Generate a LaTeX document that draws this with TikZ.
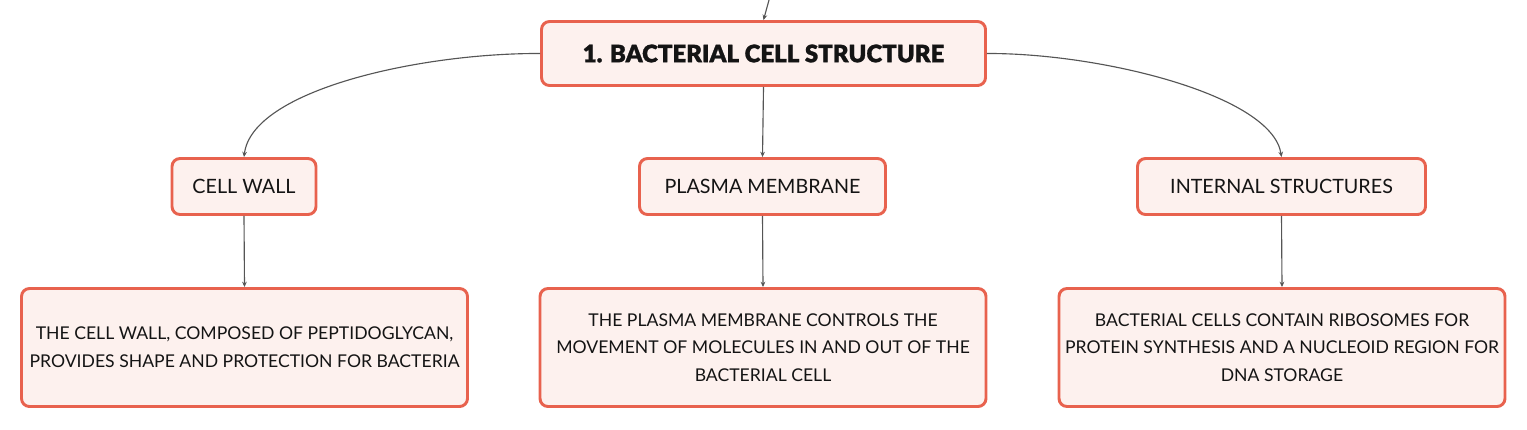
\documentclass[tikz,border=0pt]{standalone}
\usepackage{fontspec}
\setmainfont{Lato}
\newfontfamily\blackfont{Lato Black}[FakeBold=1.2]
\usetikzlibrary{arrows.meta}
\definecolor{boxborder}{HTML}{E8624E}
\definecolor{boxfill}{HTML}{FDF1EE}
\definecolor{linegray}{HTML}{555555}
\definecolor{txt}{HTML}{141414}
\tikzset{
  box/.style={draw=boxborder, fill=boxfill, line width=2.2pt, rounded corners=6pt,
    inner sep=0pt, align=center, text=txt},
  titlebox/.style={box, minimum width=333pt, minimum height=48pt,
    font=\blackfont\fontsize{18}{21}\selectfont},
  midbox/.style={box, minimum height=42pt, font=\fontsize{14.8}{17}\selectfont},
  leafbox/.style={box, minimum width=334.5pt, minimum height=88.5pt,
    font=\fontsize{13.2}{20.8}\selectfont},
  conn/.style={draw=linegray, line width=0.85pt, -{Stealth[length=4pt,width=3.5pt]}},
}
\begin{document}
\begin{tikzpicture}[x=0.75pt,y=-0.75pt]
\useasboundingbox (0,0) rectangle (1527,429);
\node[titlebox] (top) at (763.5,53.5) {1. BACTERIAL CELL STRUCTURE};
\node[midbox, minimum width=108pt] (cw) at (244,186.5) {CELL WALL};
\node[midbox, minimum width=184.5pt] (pm) at (762.5,186.5) {PLASMA MEMBRANE};
\node[midbox, minimum width=216pt] (is) at (1281.5,186.5) {INTERNAL STRUCTURES};
\node[leafbox] (cwd) at (244.5,347.5) {THE CELL WALL, COMPOSED OF PEPTIDOGLYCAN,\\PROVIDES SHAPE AND PROTECTION FOR BACTERIA};
\node[leafbox] (pmd) at (763,347.5) {THE PLASMA MEMBRANE CONTROLS THE\\MOVEMENT OF MOLECULES IN AND OUT OF THE\\BACTERIAL CELL};
\node[leafbox] (isd) at (1282,347.5) {BACTERIAL CELLS CONTAIN RIBOSOMES FOR\\PROTEIN SYNTHESIS AND A NUCLEOID REGION FOR\\DNA STORAGE};
\coordinate (in0) at (769,0);
\draw[conn] (in0) -- (top.north);
\draw[conn] (top.west) .. controls (420,53) and (252,90) .. (cw.north);
\draw[conn] (top.south) -- (pm.north);
\draw[conn] (top.east) .. controls (1100,53) and (1272,95) .. (is.north);
\draw[conn] (cw.south) -- (cwd.north);
\draw[conn] (pm.south) -- (pmd.north);
\draw[conn] (is.south) -- (isd.north);
\end{tikzpicture}
\end{document}
